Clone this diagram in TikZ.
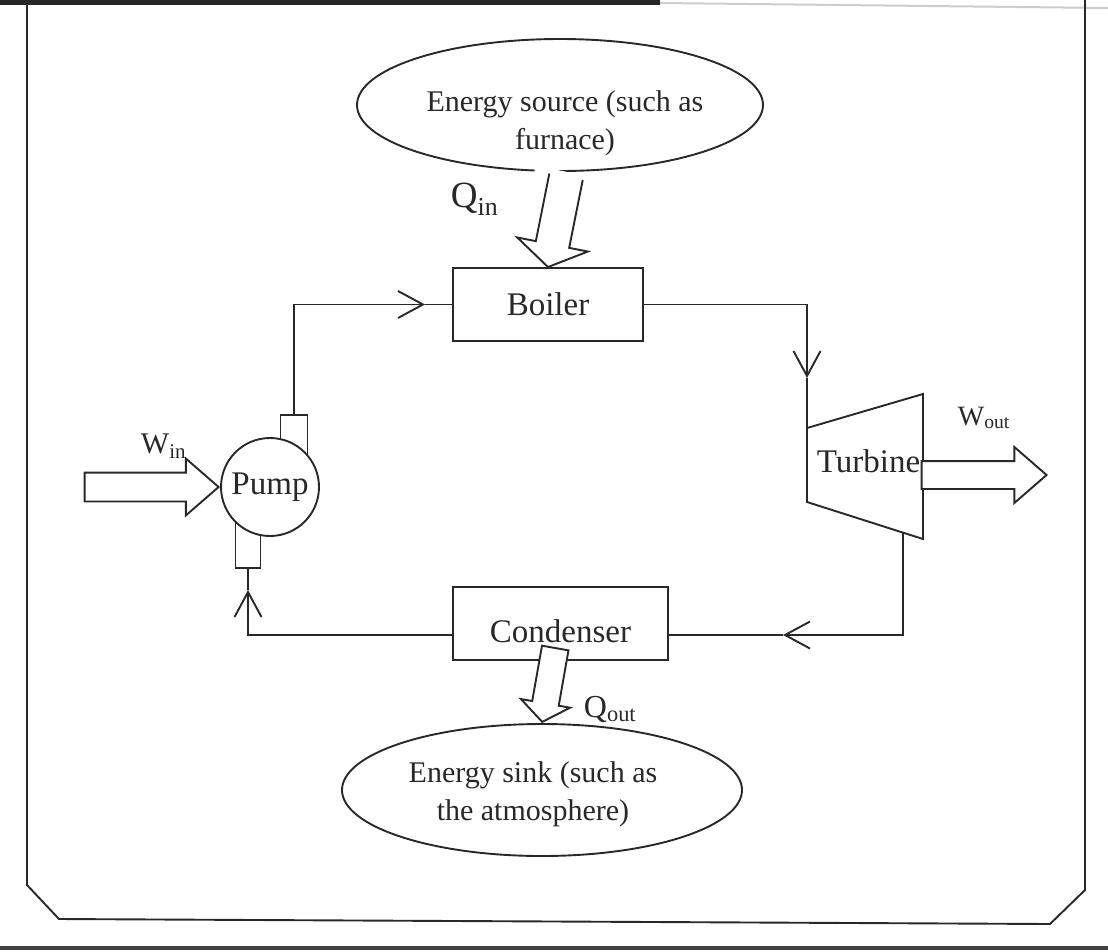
\documentclass[tikz,border=0pt]{standalone}
\usepackage{fontspec}
\setmainfont{Liberation Serif}
\usetikzlibrary{shapes.geometric,shapes.arrows,arrows.meta}
\definecolor{ink}{RGB}{40,40,40}

\begin{document}
\begin{tikzpicture}[x=1pt,y=-1pt,line width=1.9pt,draw=ink,text=ink,
  unit/.style={draw=ink,rectangle,minimum width=190pt,minimum height=73pt,inner sep=0pt,font=\fontsize{33}{35}\selectfont},
  cloud/.style={draw=ink,ellipse,inner sep=0pt},
  cloudtext/.style={inner sep=0pt,align=center,font=\fontsize{30}{38}\selectfont},
  flow/.style={draw=ink,-{Straight Barb[length=25pt,width=27pt]}},
  block/.style={draw=ink,fill=white,single arrow,inner xsep=0pt,anchor=tip},
  lbl/.style={inner sep=0pt,anchor=base west}]
\useasboundingbox (0,0) rectangle (1108,951);

% scanned page edges and frame
\fill[black!85] (0,0) rectangle (660,5);
\draw[black!20,line width=2pt] (660,3) -- (1108,8);
\fill[black!75] (0,946) rectangle (1108,950);
\draw[ink] (27,0) -- (27,885) -- (59,919) -- (1050,924) -- (1085,890) -- (1085,0);

% components
\node[cloud,minimum width=406pt,minimum height=132pt] (source) at (560,105) {};
\node[cloudtext] (sourcetext) at (565,123.5) {Energy source (such as\\furnace)};
\node[unit] (boiler) at (548,304.5) {Boiler};
\node[unit,minimum width=215pt,text height=39pt] (condenser) at (560.5,623.5) {Condenser};
\node[cloud,minimum width=400pt,minimum height=132pt] (sink) at (542,790) {};
\node[cloudtext] (sinktext) at (533,794) {Energy sink (such as\\the atmosphere)};

\node[draw=ink,minimum width=27pt,minimum height=45pt,inner sep=0pt] (pumpout) at (294,437.5) {};
\node[draw=ink,minimum width=25pt,minimum height=53pt,inner sep=0pt] (pumpin) at (248,541.5) {};
\node[draw=ink,fill=white,circle,minimum size=98pt,inner sep=0pt,font=\fontsize{33}{35}\selectfont] (pump) at (270,487) {Pump};

\draw[ink] (807,428) coordinate (tin) -- (923,394) -- (923,539) -- (807,502) -- cycle;
\coordinate (tout) at (903,533);
\node[anchor=base,inner sep=0pt,font=\fontsize{33}{35}\selectfont] (turbine) at (868.5,472) {Turbine};

% cycle
\coordinate (b1) at (425,304.5);
\draw[flow] (pumpout.north) |- (b1);
\draw (b1) -- (boiler.west);

\coordinate (t1) at (807,378);
\draw[flow] (boiler.east) -| (t1);
\draw (t1) -- (tin);

\coordinate (c1) at (783,635);
\draw[flow] (tout) |- (c1);
\draw (c1) -- (c1 -| condenser.east);

\coordinate (p1) at (248,590);
\draw[flow] (c1 -| condenser.west) -| (p1);
\draw (p1) -- (pumpin.south);

% heat and work
\begin{scope}[shift={(boiler.north)},rotate=258.7]
\fill[white] (-97,32) rectangle (-86,-32);
\draw[fill=white] (-92,17) -- (-23,17) -- (-23,36) -- (0,0) -- (-23,-36) -- (-23,-17) -- (-92,-17);
\end{scope}
\node[block,rotate=260,inner ysep=12.5pt,minimum height=75pt,minimum width=48pt,single arrow head extend=11.5pt,single arrow tip angle=106] (qout) at (sink.north) {};
\node[block,inner ysep=13.5pt,minimum height=134pt,minimum width=55pt,single arrow head extend=14pt,single arrow tip angle=82] (win) at (pump.west) {};
\node[block,inner ysep=13pt,minimum height=125pt,minimum width=54pt,single arrow head extend=14pt,single arrow tip angle=82] (wout) at (1048,475) {};

\node[lbl,font=\fontsize{37}{40}\selectfont] (qinlbl) at (450,207) {Q\textsubscript{in}};
\node[lbl,font=\fontsize{30}{34}\selectfont] (winlbl) at (140,453) {W\textsubscript{in}};
\node[lbl,font=\fontsize{28}{32}\selectfont] (woutlbl) at (957,425) {W\textsubscript{out}};
\node[lbl,font=\fontsize{32}{36}\selectfont] (qoutlbl) at (583,717) {Q\textsubscript{out}};

\end{tikzpicture}
\end{document}
